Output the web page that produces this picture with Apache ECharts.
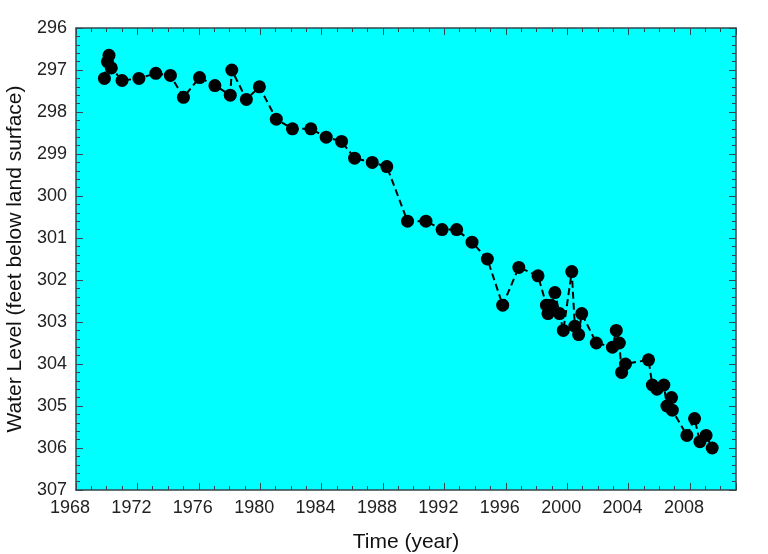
<!DOCTYPE html>
<html>
<head>
<meta charset="utf-8">
<script src="https://cdn.jsdelivr.net/npm/echarts@6/dist/echarts.min.js"></script>
<style>
    html, body { margin: 0; padding: 0; background: #fff; }
    #chart { width: 768px; height: 554px; }
</style>
</head>
<body>
<div id="chart"></div>
<script>
    // measurement dates (decimal year) and depth to water (ft below land surface)
    var years = [1969.85, 1970.05, 1970.15, 1970.3, 1971.0, 1972.1, 1973.2, 1974.15, 1975.0, 1976.05,
        1977.05, 1978.05, 1978.15, 1979.1, 1979.95, 1981.05, 1982.1, 1983.3, 1984.3, 1985.3,
        1986.15, 1987.3, 1988.25, 1989.6, 1990.8, 1991.85, 1992.8, 1993.8, 1994.8, 1995.8,
        1996.85, 1998.1, 1998.65, 1998.75, 1998.95, 1999.2, 1999.5, 1999.75, 2000.3, 2000.5,
        2000.75, 2000.95, 2001.9, 2002.95, 2003.2, 2003.4, 2003.55, 2003.8, 2005.3, 2005.55,
        2005.85, 2006.3, 2006.5, 2006.8, 2006.85, 2007.8, 2008.3, 2008.65, 2009.05, 2009.45];
    var levels = [297.2, 296.8, 296.65, 296.95, 297.25, 297.2, 297.08, 297.13, 297.65, 297.18,
        297.37, 297.6, 297.0, 297.7, 297.4, 298.17, 298.4, 298.4, 298.6, 298.7,
        299.1, 299.2, 299.3, 300.6, 300.6, 300.8, 300.8, 301.1, 301.5, 302.6,
        301.7, 301.9, 302.6, 302.8, 302.6, 302.3, 302.8, 303.2, 301.8, 303.1,
        303.3, 302.8, 303.5, 303.6, 303.2, 303.5, 304.2, 304.0, 303.9, 304.5,
        304.6, 304.5, 305.0, 304.8, 305.1, 305.7, 305.3, 305.85, 305.7, 306.0];

    var xMin = 1968, xMax = 2011, xStep = 4;
    var yMin = 296, yMax = 307, yStep = 1;

    var points = years.map(function (y, i) { return [y, levels[i]]; });

    var font = 'Liberation Sans, Arial, sans-serif';
    var lineCol = '#34474f';

    function xAx(pos, show) {
        return {
            type: 'value', position: pos, min: xMin, max: xMax, interval: xStep,
            axisLine: { show: true, onZero: false, lineStyle: { color: lineCol, width: 1.5 } },
            axisTick: { show: true, inside: true, length: 7, lineStyle: { color: lineCol } },
            minorTick: { show: true, splitNumber: 4, length: 4, lineStyle: { color: lineCol } },
            splitLine: { show: false },
            axisLabel: {
                show: show, showMaxLabel: false, margin: 9, color: '#222',
                fontFamily: font, fontSize: 18, padding: [0, 12, 0, 0],
                formatter: function (v) { return String(v); }
            },
            name: show ? 'Time (year)' : '', nameLocation: 'middle', nameGap: 42,
            nameTextStyle: { fontFamily: font, fontSize: 21, color: '#111' }
        };
    }

    function yAx(pos, show) {
        return {
            type: 'value', position: pos, min: yMin, max: yMax, interval: yStep, inverse: true,
            axisLine: { show: true, onZero: false, lineStyle: { color: lineCol, width: 1.5 } },
            axisTick: { show: true, inside: true, length: 7, lineStyle: { color: lineCol } },
            minorTick: { show: true, splitNumber: 5, length: 4, lineStyle: { color: lineCol } },
            splitLine: { show: false },
            axisLabel: { show: show, margin: 9, color: '#222', fontFamily: font, fontSize: 18 },
            name: show ? 'Water Level (feet below land surface)' : '',
            nameLocation: 'middle', nameGap: 48,
            nameTextStyle: { fontFamily: font, fontSize: 21, color: '#111' }
        };
    }

    var chart = echarts.init(document.getElementById('chart'));
    chart.setOption({
        animation: false,
        grid: {
            left: 76, right: 32, top: 28, bottom: 64,
            outerBoundsMode: 'none',
            show: true, backgroundColor: '#00ffff', borderWidth: 0
        },
        xAxis: [xAx('bottom', true), xAx('top', false)],
        yAxis: [yAx('left', true), yAx('right', false)],
        series: [{
            type: 'line',
            xAxisIndex: 0, yAxisIndex: 0,
            data: points,
            symbol: 'circle', symbolSize: 13,
            itemStyle: { color: '#000' },
            lineStyle: { color: '#000', width: 2, type: [7, 4] }
        }]
    });
</script>
</body>
</html>
